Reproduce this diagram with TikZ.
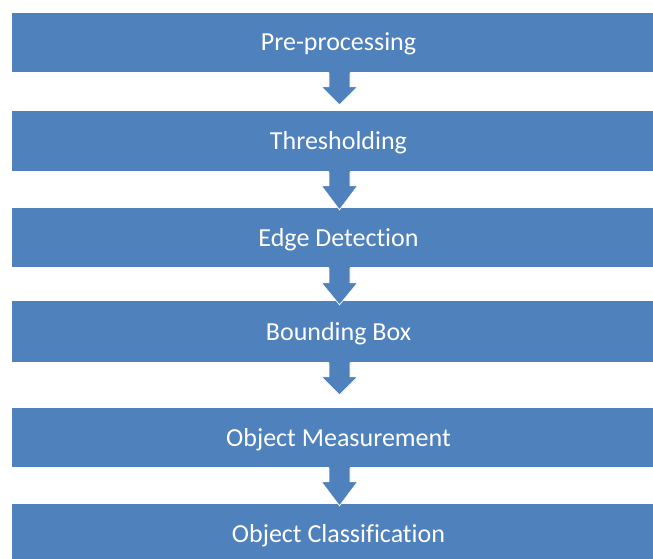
\documentclass[tikz,border=0pt]{standalone}
\usepackage{fontspec}
\setmainfont{Carlito}[Ligatures=NoCommon]
\usetikzlibrary{calc}
\definecolor{flowblue}{HTML}{4F81BD}
\tikzset{
  stagebox/.style={fill=flowblue, draw=none, inner sep=0pt, minimum width=653pt,
    text=white, font=\fontsize{26}{30}\selectfont, text height=17pt, text depth=0pt},
  tipline/.style={draw=white, line width=0.7pt, line join=miter},
}
\newcommand\flowarrow[4]{%
  \coordinate (tip) at ($(#2.north)+(1,#3)$);
  \coordinate (hs) at ($(tip)+(0,#4)$);
  \coordinate (st) at ($(#1.south)+(1,0.5)$);
  \fill[flowblue] ($(st)+(-10.5,0)$) -- ($(hs)+(-10.5,0)$) -- ($(hs)+(-18,0)$) -- (tip)
     -- ($(hs)+(18,0)$) -- ($(hs)+(10.5,0)$) -- ($(st)+(10.5,0)$) -- cycle;
  \draw[tipline] ($(st)+(-10.5,-1.5)$) -- ($(hs)+(-10.5,0)$) -- ($(hs)+(-18,0)$) -- (tip)
     -- ($(hs)+(18,0)$) -- ($(hs)+(10.5,0)$) -- ($(st)+(10.5,-1.5)$);
}
\begin{document}
\begin{tikzpicture}[x=1pt,y=1pt]
\useasboundingbox (0,0) rectangle (653,-559);
\clip (0,0) rectangle (653,-559);
\node[stagebox, minimum height=59pt] (b1) at (338.5,-42.5) {Pre-processing};
\node[stagebox, minimum height=60pt] (b2) at (338.5,-141) {Thresholding};
\node[stagebox, minimum height=59pt] (b3) at (338.5,-237.5) {Edge Detection};
\node[stagebox, minimum height=61pt] (b4) at (338.5,-331.5) {Bounding Box};
\node[stagebox, minimum height=59pt] (b5) at (338.5,-437.5) {Object Measurement};
\node[stagebox, minimum height=59pt] (b6) at (338.5,-533.5) {Object Classification};
\flowarrow{b1}{b2}{6}{18}
\flowarrow{b2}{b3}{-2}{24}
\flowarrow{b3}{b4}{-4}{22}
\flowarrow{b4}{b5}{13}{18}
\flowarrow{b5}{b6}{-2}{24}
\end{tikzpicture}
\end{document}
